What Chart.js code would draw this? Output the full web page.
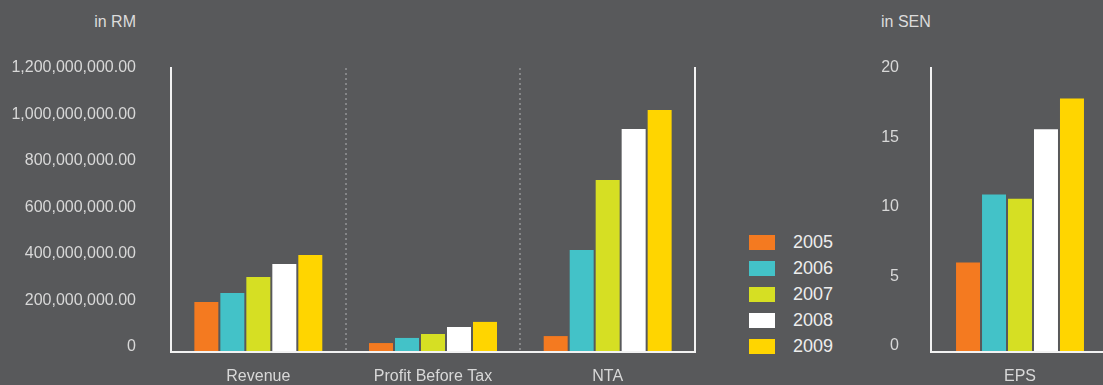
<!DOCTYPE html>
<html>
<head>
<meta charset="utf-8">
<script src="https://cdn.jsdelivr.net/npm/chart.js@4.4.0/dist/chart.umd.min.js"></script>
<style>
  html, body { margin: 0; padding: 0; background: #58595b; overflow: hidden; }
  body { width: 1103px; height: 385px; position: relative; font-family: 'Liberation Sans', Arial, sans-serif; color: #dcdcdc; }
  canvas { position: absolute; top: 0; }
  #rmChart { left: 0; }
  #senChart { left: 860px; }
  .unit { position: absolute; top: 14px; font-size: 16px; line-height: 16px; }
  #legend { position: absolute; left: 749px; top: 229px; }
  .item { height: 26px; display: flex; align-items: center; font-size: 18px; color: #ededed; }
  .swatch { width: 26px; height: 15px; margin-right: 18px; }
</style>
</head>
<body>
<div class="unit" style="left:0; width:136px; text-align:right;">in RM</div>
<div class="unit" style="left:881px;">in SEN</div>
<canvas id="rmChart" width="720" height="385"></canvas>
<canvas id="senChart" width="260" height="385"></canvas>
<div id="legend"></div>
<script>
// Years and their colours
const years = ['2005', '2006', '2007', '2008', '2009'];
const yearColors = ['#f47a20', '#43c2c8', '#d6df23', '#ffffff', '#ffd500'];

// Left chart (in RM)
const rmCategories = ['Revenue', 'Profit Before Tax', 'NTA'];
const rm2005 = [194e6, 17e6, 47e6];
const rm2006 = [232e6, 39e6, 417e6];
const rm2007 = [301e6, 56e6, 718e6];
const rm2008 = [357e6, 86e6, 938e6];
const rm2009 = [396e6, 108e6, 1019e6];
const rmTicks = [0, 200e6, 400e6, 600e6, 800e6, 1000e6, 1200e6];

// Right chart (in SEN)
const senCategories = ['EPS'];
const eps = [6.0, 10.9, 10.6, 15.6, 17.8]; // one value per year
const senTicks = [0, 5, 10, 15, 20];

const textColor = '#d8d8d8';
const axisColor = '#f2f2f2';
const dotColor = '#858688';

// bars start a little below the zero line, like the original
const rmMin = -21.5e6;
const senMin = -0.43;

function fixedTicks(list) {
    return scale => { scale.ticks = list.map(v => ({ value: v })); };
}

function buildOptions(cfg) {
    return {
        responsive: false,
        animation: false,
        layout: { padding: { top: 68, right: cfg.padRight, left: 0, bottom: 0 } },
        plugins: { legend: { display: false }, tooltip: { enabled: false } },
        scales: {
            x: {
                grid: {
                    offset: true,
                    drawTicks: false,
                    lineWidth: 2,
                    color: c => (c.index > 0 && c.index < cfg.catCount) ? dotColor : 'transparent'
                },
                border: {
                    color: axisColor,
                    width: 2,
                    z: 1,
                    dash: c => c.type === 'tick' ? [2, 3] : []
                },
                ticks: { color: textColor, font: { family: 'Liberation Sans', size: 16 }, padding: 15 },
                afterFit: s => { s.height = 33; }
            },
            y: {
                min: cfg.min,
                max: cfg.max,
                afterBuildTicks: fixedTicks(cfg.ticks),
                // invisible tick marks give the gap between labels and axis
                grid: { display: true, drawOnChartArea: false, drawTicks: true, tickLength: cfg.tickGap, tickColor: 'transparent' },
                border: { color: axisColor, width: 2 },
                ticks: {
                    color: textColor,
                    font: { family: 'Liberation Sans', size: 16 },
                    padding: 2,
                    callback: cfg.format
                },
                afterFit: s => { s.width = cfg.axisWidth; }
            },
            y2: {
                display: cfg.rightBorder,
                position: 'right',
                grid: { display: false, drawTicks: false },
                ticks: { display: false },
                border: { color: axisColor, width: 2 },
                afterFit: s => { s.width = 0; }
            }
        }
    };
}

// Left chart
const rmSeries = [rm2005, rm2006, rm2007, rm2008, rm2009];
new Chart(document.getElementById('rmChart'), {
    type: 'bar',
    data: {
        labels: rmCategories,
        datasets: years.map((year, i) => ({
            label: year,
            data: rmSeries[i],
            backgroundColor: yearColors[i],
            borderWidth: 0,
            base: rmMin,
            categoryPercentage: 0.744,
            barPercentage: 0.923
        }))
    },
    options: buildOptions({
        padRight: 25,
        catCount: rmCategories.length,
        min: rmMin,
        max: 1200e6,
        ticks: rmTicks,
        tickGap: 33,
        axisWidth: 171,
        rightBorder: true,
        format: v => v === 0 ? '0' : v.toLocaleString('en-US', { minimumFractionDigits: 2, maximumFractionDigits: 2 })
    })
});

// Right chart
new Chart(document.getElementById('senChart'), {
    type: 'bar',
    data: {
        labels: senCategories,
        datasets: years.map((year, i) => ({
            label: year,
            data: [eps[i]],
            backgroundColor: yearColors[i],
            borderWidth: 0,
            base: senMin,
            categoryPercentage: 0.73,
            barPercentage: 0.923
        }))
    },
    options: buildOptions({
        padRight: 11,
        catCount: senCategories.length,
        min: senMin,
        max: 20,
        ticks: senTicks,
        tickGap: 30,
        axisWidth: 71,
        rightBorder: false,
        format: v => String(v)
    })
});

// Legend
const legend = document.getElementById('legend');
years.forEach((year, i) => {
    const row = document.createElement('div');
    row.className = 'item';
    const box = document.createElement('span');
    box.className = 'swatch';
    box.style.background = yearColors[i];
    row.appendChild(box);
    row.appendChild(document.createTextNode(year));
    legend.appendChild(row);
});
</script>
</body>
</html>
